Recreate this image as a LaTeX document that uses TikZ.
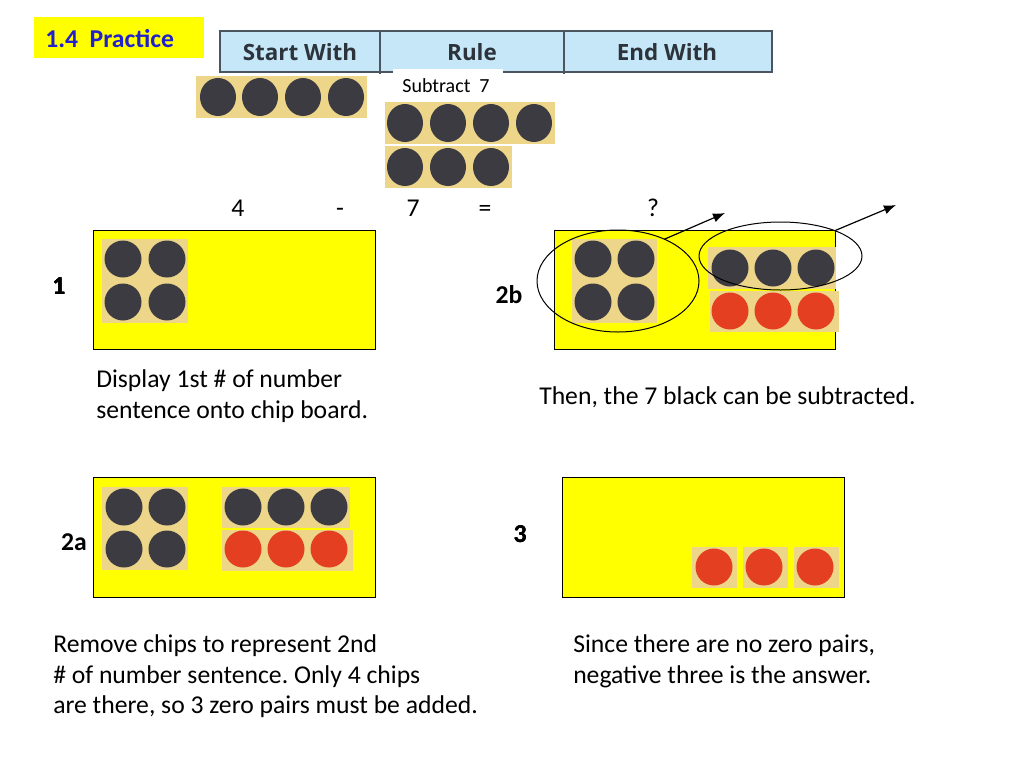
\documentclass[tikz,border=0pt]{standalone}
\usepackage{fontspec}
\setmainfont{Carlito}
\newfontfamily\headfont{Open Sans}
\usetikzlibrary{shapes.geometric,arrows.meta}
\definecolor{tilecol}{HTML}{EDD68A}
\definecolor{darkchip}{HTML}{3B3B41}
\definecolor{redchip}{HTML}{E33F20}
\definecolor{headcol}{HTML}{C5E7F8}
\definecolor{headline}{HTML}{4A5560}
\definecolor{boardcol}{HTML}{FFFF00}
\definecolor{titlecol}{HTML}{2020CC}
\tikzset{
  board/.style={draw=black,fill=boardcol,line width=0.75pt},
  tile/.style={fill=tilecol},
  txt/.style={anchor=west,inner sep=0pt,align=left,font=\fontsize{19.25}{22.9}\selectfont},
  eqn/.style={anchor=base,inner sep=0pt,font=\fontsize{19.25}{22.9}\selectfont},
  tag/.style={inner sep=0pt,font=\fontsize{19.25}{22.9}\selectfont\bfseries},
  head/.style={inner sep=0pt,text=headline!60!black,font=\headfont\fontsize{16.8}{20}\selectfont\bfseries},
  ring/.style={draw=black,ellipse,inner sep=0pt,outer sep=0pt,line width=0.75pt}
}
% chip at x,y with colour
\newcommand{\chip}[3]{\fill[#3] (#1,#2) circle (18.5);}
\frenchspacing
\begin{document}
\begin{tikzpicture}[x=0.75pt,y=-0.75pt,>={Latex[length=9pt,width=7pt]}]
    \useasboundingbox (0,0) rectangle (1024,768);
    \fill[white] (0,0) rectangle (1024,768);
    % title
    \fill[boardcol] (34,17) rectangle (204,58);
    \node[anchor=west,inner sep=0pt,text=titlecol,font=\fontsize{19.25}{22}\selectfont\bfseries] (title) at (45,38.5) {1.4\ \ Practice};
    % table head
    \fill[headcol] (220,31) rectangle (772,72);
    \draw[headline,line width=1.5pt] (220,73) -- (220,31) -- (772,31) -- (772,73);
    \draw[headline,line width=1.5pt] (220,72) -- (772,72);
    \draw[headline,line width=1pt] (380,31) -- (380,74);
    \draw[headline,line width=1pt] (564,31) -- (564,74);
    \node[head] (start) at (300,52) {Start With};
    \node[head] (rule) at (472,52) {Rule};
    \node[head] (endw) at (667,52) {End With};
    % top chips
    \fill[white] (393,69) rectangle (503,102);
    \node[inner sep=0pt,font=\fontsize{15}{17}\selectfont] (subtr) at (446,86) {Subtract\ \ 7};
    \fill[tile] (196,76) rectangle (367,118);
    \foreach \x in {218,260,303,346} \fill[darkchip] (\x,97) ellipse (18 and 19);
    \fill[tile] (385,102) rectangle (555,144);
    \foreach \x in {405,448,491,534} \fill[darkchip] (\x,123) ellipse (18 and 19);
    \fill[tile] (385,146) rectangle (512,188);
    \foreach \x in {405,448,491} \fill[darkchip] (\x,167) ellipse (18 and 19);
    % number sentence
    \node[eqn] (four) at (238,216) {4};
    \node[eqn] (minus) at (340,216) {-};
    \node[eqn] (seven) at (413,216) {7};
    \node[eqn] (equal) at (485,216) {=};
    \node[eqn] (quest) at (653,216) {?};
    % board 1
    \draw[board] (93.5,230.5) rectangle (375.5,349);
    \fill[tile] (102,239) rectangle (188,323);
    \foreach \x in {123,167} \foreach \y in {259,302} \chip{\x}{\y}{darkchip}
    \node[tag] (one) at (59,286) {1};
    \node[txt] (txtone) at (96,396) {Display 1st \# of number\\sentence onto chip board.};
    % board 2b
    \draw[board] (554.5,230.5) rectangle (835.5,349);
    \fill[tile] (572,239) rectangle (657,323);
    \foreach \x in {593,636} \foreach \y in {259,302} \chip{\x}{\y}{darkchip}
    \fill[tile] (708,247) rectangle (836,289);
    \fill[tile] (710,291) rectangle (839,332);
    \foreach \x in {730,773,816} {
      \chip{\x}{268}{darkchip}
      \chip{\x}{311}{redchip}
    }
    \node[tag] (twob) at (509,295) {2b};
    \node[txt] (txttwob) at (539,397.5) {Then, the 7 black can be subtracted.};
    \node[ring,minimum width=121.5pt,minimum height=76.5pt] (ringa) at (618,281) {};
    \node[ring,minimum width=122.25pt,minimum height=51pt] (ringb) at (780.5,256) {};
    \coordinate (tipa) at (725,213);
    \coordinate (tipb) at (896,205);
    \draw[->,line width=0.9pt] (ringa.42) -- (tipa);
    \draw[->,line width=0.9pt] (ringb.25) -- (tipb);
    % board 2a
    \draw[board] (93.5,477.5) rectangle (375.5,597);
    \fill[tile] (102,487) rectangle (188,570);
    \foreach \x in {124,167} \foreach \y in {507,549} \chip{\x}{\y}{darkchip}
    \fill[tile] (222,487) rectangle (350,528);
    \fill[tile] (222,530) rectangle (353,571);
    \foreach \x in {243,286,329} {
      \chip{\x}{507}{darkchip}
      \chip{\x}{549}{redchip}
    }
    \node[tag] (twoa) at (74,542) {2a};
    \node[txt] (txttwoa) at (53,676.5) {Remove chips to represent 2nd\\\# of number sentence. Only 4 chips\\are there, so 3 zero pairs must be added.};
    % board 3
    \draw[board] (562.5,477.5) rectangle (844.5,597);
    \fill[tile] (692,547) rectangle (737,588);
    \fill[tile] (743,547) rectangle (788,588);
    \fill[tile] (794,547) rectangle (839,588);
    \foreach \x in {714,764,815} \chip{\x}{567}{redchip}
    \node[tag] (three) at (520,534) {3};
    \node[txt] (txtthree) at (573,661.5) {Since there are no zero pairs,\\negative three is the answer.};
\end{tikzpicture}
\end{document}
